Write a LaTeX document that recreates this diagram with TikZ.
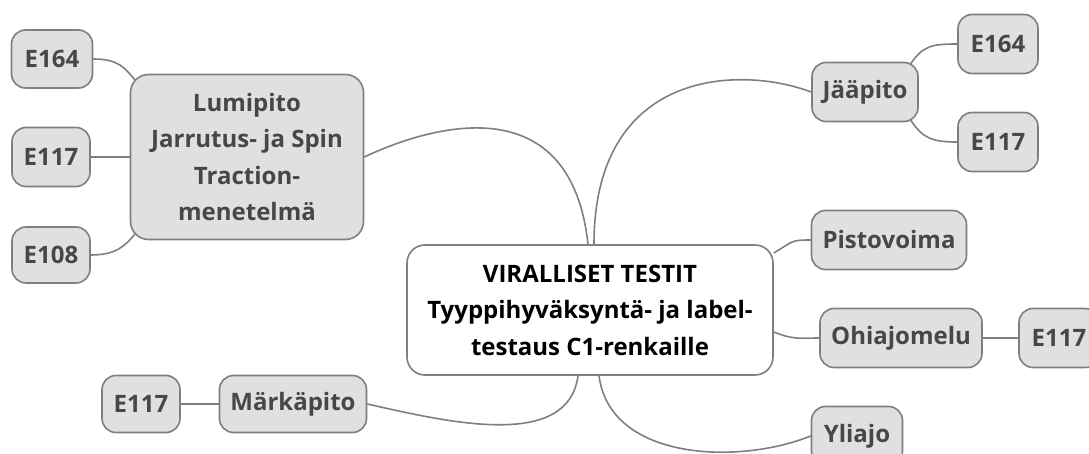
\documentclass[tikz,border=0pt]{standalone}
\usepackage{fontspec}
\setmainfont{Open Sans}
\definecolor{boxfill}{HTML}{E0E0E0}
\definecolor{boxline}{HTML}{7F7F7F}
\definecolor{txtgray}{HTML}{474747}
\begin{document}
\begin{tikzpicture}[x=1pt,y=-1pt,
  leaf/.style={draw=boxline, line width=1.6pt, fill=boxfill, rounded corners=14pt,
     inner sep=0pt, align=center, text=txtgray,
     font=\fontsize{24}{36.5}\selectfont\bfseries},
  root/.style={leaf, fill=white, text=black, rounded corners=18pt},
  conn/.style={draw=boxline, line width=1.6pt}]
\useasboundingbox[fill=white] (0,0) rectangle (1089,454);
% central
\node[root, minimum width=366, minimum height=130] (cent) at (590,310)
  {VIRALLISET TESTIT\\Tyyppihyväksyntä- ja label-\\testaus C1-renkaille};
% left branch
\node[leaf, rounded corners=18pt, minimum width=233, minimum height=165] (lumi) at (247,157)
  {Lumipito\\Jarrutus- ja Spin\\Traction-\\menetelmä};
\node[leaf, minimum width=81, minimum height=58] (l164) at (52,59) {E164};
\node[leaf, minimum width=78, minimum height=59] (l117) at (51,157) {E117};
\node[leaf, minimum width=78, minimum height=56] (l108) at (51,255) {E108};
% right branch
\node[leaf, minimum width=106, minimum height=59] (jaa) at (865,92) {Jääpito};
\node[leaf, minimum width=80, minimum height=59] (r164) at (998,44) {E164};
\node[leaf, minimum width=80, minimum height=59] (r117) at (998,142) {E117};
\node[leaf, minimum width=155, minimum height=59] (pisto) at (889,240) {Pistovoima};
\node[leaf, minimum width=162, minimum height=59] (ohia) at (901,338) {Ohiajomelu};
\node[leaf, minimum width=80, minimum height=59] (o117) at (1059,338) {E117};
\node[leaf, minimum width=91, minimum height=59] (yli) at (857,436) {Yliajo};
% bottom left
\node[leaf, minimum width=147, minimum height=57] (mark) at (293,404) {Märkäpito};
\node[leaf, minimum width=78, minimum height=57] (m117) at (141,404) {E117};
% connectors from centre
\draw[conn] (lumi.east) .. controls +(57,-27) and +(-18,-165) .. ([xshift=-2pt]cent.north);
\draw[conn] ([xshift=4pt]cent.north) .. controls +(0,-175) and +(-72,-27) .. (jaa.west);
\draw[conn] ([xshift=-12pt]cent.south) .. controls +(-10,75) and +(80,18) .. (mark.east);
\draw[conn] ([xshift=9pt]cent.south) .. controls +(11,85) and +(-72,29) .. (yli.west);
\draw[conn] ([yshift=57pt]cent.east) .. controls +(20,-12) and +(-20,0) .. (pisto.west);
\draw[conn] ([yshift=-22pt]cent.east) .. controls +(20,8) and +(-20,0) .. (ohia.west);
% sub connectors
\draw[conn] (l164.east) .. controls +(25,0) and +(-10,-12) .. ([xshift=5pt,yshift=-6pt]lumi.north west);
\draw[conn] (l117.east) -- (lumi.west |- l117.east);
\draw[conn] (l108.east) .. controls +(25,0) and +(-10,12) .. ([xshift=5pt,yshift=6pt]lumi.south west);
\draw[conn] ([xshift=-8pt,yshift=-2pt]jaa.north east) .. controls +(12,-18) and +(-25,0) .. (r164.west);
\draw[conn] ([xshift=-8pt,yshift=2pt]jaa.south east) .. controls +(12,18) and +(-25,0) .. (r117.west);
\draw[conn] (ohia.east) -- (o117.west);
\draw[conn] (m117.east) -- (mark.west);
\end{tikzpicture}
\end{document}
